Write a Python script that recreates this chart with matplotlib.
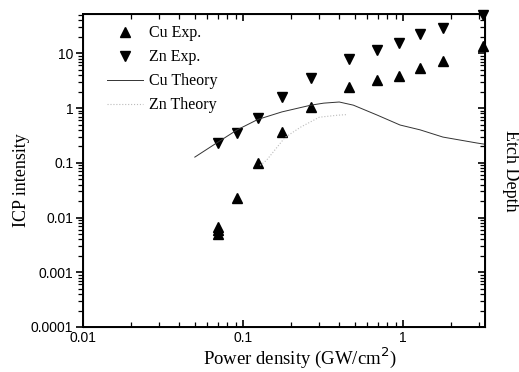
"""
ICP intensity vs power density, Cu / Zn experiment and theory
"""
import matplotlib
matplotlib.use("Agg")
import matplotlib.pyplot as plt
from matplotlib.ticker import FixedLocator, FixedFormatter, NullFormatter

# experimental points
cu_x = [0.07, 0.07, 0.07, 0.092, 0.124, 0.175, 0.266, 0.46, 0.69, 0.94, 1.28, 1.78, 3.16]
cu_y = [0.0068, 0.0058, 0.005, 0.0226, 0.099, 0.36, 1.04, 2.4, 3.25, 3.85, 5.4, 7.2, 13.6]
zn_x = [0.07, 0.092, 0.124, 0.175, 0.266, 0.46, 0.69, 0.94, 1.28, 1.78, 3.16]
zn_y = [0.23, 0.35, 0.66, 1.59, 3.5, 7.9, 11.5, 15.5, 22.5, 29, 50]

# theory curves
cu_th_x = [0.05, 0.07, 0.092, 0.124, 0.175, 0.266, 0.32, 0.40, 0.49, 0.69, 0.96, 1.28, 1.78, 2.9, 3.2]
cu_th_y = [0.127, 0.24, 0.40, 0.62, 0.85, 1.13, 1.23, 1.29, 1.13, 0.745, 0.49, 0.40, 0.295, 0.23, 0.22]
zn_th_x = [0.128, 0.14, 0.183, 0.23, 0.30, 0.39, 0.45]
zn_th_y = [0.09, 0.11, 0.29, 0.45, 0.68, 0.74, 0.76]

y_ticks = [0.0001, 0.001, 0.01, 0.1, 1, 10]
y_labels = ["0.0001", "0.001", "0.01", "0.1", "1", "10"]
x_ticks = [0.01, 0.1, 1]
x_labels = ["0.01", "0.1", "1"]

serif = ["Liberation Serif", "DejaVu Serif"]
sans = ["Liberation Sans", "DejaVu Sans"]

# minor tick positions for the log axes
minor_pos = [m * 10.0 ** e for e in range(-5, 3) for m in range(2, 10)]

fig = plt.figure(figsize=(5.19, 3.72), dpi=100)
ax = fig.add_axes([0.160, 0.121, 0.774, 0.841])

ax.plot(cu_x, cu_y, "^", color="black", markersize=7, label="Cu Exp.", clip_on=False)
ax.plot(zn_x, zn_y, "v", color="black", markersize=7, label="Zn Exp.", clip_on=False)
ax.plot(cu_th_x, cu_th_y, "-", color="#333333", linewidth=0.7, label="Cu Theory")
ax.plot(zn_th_x, zn_th_y, ":", color="#bbbbbb", linewidth=0.8, label="Zn Theory")

ax.set_xscale("log")
ax.set_yscale("log")
ax.set_xlim(0.01, 3.25)
ax.set_ylim(0.0001, 52)

ax.xaxis.set_major_locator(FixedLocator(x_ticks))
ax.xaxis.set_major_formatter(FixedFormatter(x_labels))
ax.xaxis.set_minor_locator(FixedLocator(minor_pos))
ax.xaxis.set_minor_formatter(NullFormatter())
ax.yaxis.set_major_locator(FixedLocator(y_ticks))
ax.yaxis.set_major_formatter(FixedFormatter(y_labels))
ax.yaxis.set_minor_locator(FixedLocator(minor_pos))
ax.yaxis.set_minor_formatter(NullFormatter())

ax.tick_params(axis="x", which="both", direction="in", top=True, labelsize=10, pad=3)
ax.tick_params(axis="y", which="both", direction="out", labelsize=10, pad=2)
ax.tick_params(which="major", length=5, width=1.2)
ax.tick_params(which="minor", length=3.5, width=0.9)
for lab in ax.get_xticklabels() + ax.get_yticklabels():
    lab.set_family(sans)
for sp in ax.spines.values():
    sp.set_linewidth(1.4)

ax2 = ax.twinx()
ax2.set_yscale("log")
ax2.set_ylim(ax.get_ylim())
ax2.yaxis.set_major_locator(FixedLocator(y_ticks))
ax2.yaxis.set_minor_locator(FixedLocator(minor_pos))
ax2.yaxis.set_major_formatter(NullFormatter())
ax2.yaxis.set_minor_formatter(NullFormatter())
ax2.tick_params(which="both", direction="in")
ax2.tick_params(which="major", length=5, width=1.2)
ax2.tick_params(which="minor", length=3.5, width=0.9)
ax2.set_ylabel("Etch Depth", family=serif, fontsize=13, rotation=270, va="center")
ax2.yaxis.set_label_coords(1.063, 0.5)

ax.set_xlabel("Power density (GW/cm$^2$)", family=serif, fontsize=13.5, labelpad=2)
ax.xaxis.set_label_coords(0.54, -0.06)
ax.xaxis.label.set_va("top")
ax.set_ylabel("ICP intensity", family=serif, fontsize=13)
ax.yaxis.set_label_coords(-0.132, 0.47)

ax.legend(loc="upper left", bbox_to_anchor=(0.025, 1.01), frameon=False,
          prop={"family": serif, "size": 11.5}, handlelength=2.2,
          labelspacing=0.5, handletextpad=0.4)

fig.savefig("out.png", dpi=100)
